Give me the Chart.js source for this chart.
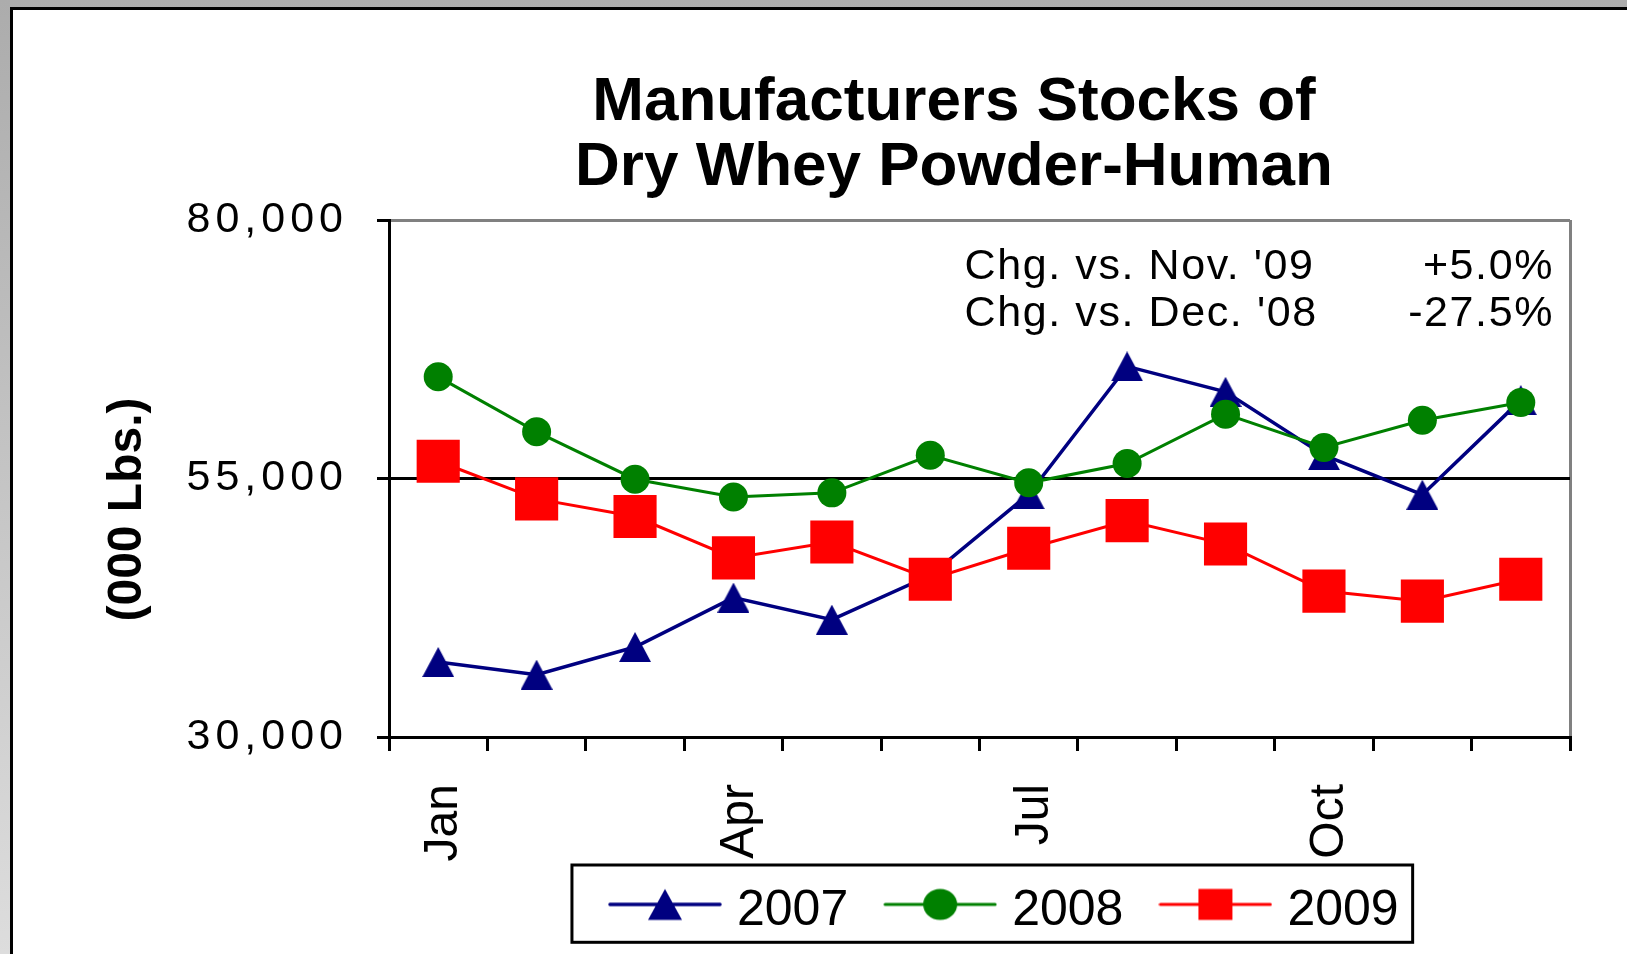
<!DOCTYPE html>
<html>
<head>
<meta charset="utf-8">
<script src="https://cdn.jsdelivr.net/npm/chart.js@4.4.1/dist/chart.umd.min.js"></script>
<style>
html,body{margin:0;padding:0;width:1627px;height:954px;overflow:hidden;background:linear-gradient(to bottom,#acacac,#dddddd);}
#panel{position:absolute;left:10px;top:7px;width:1700px;height:1000px;border:3px solid #000;background:#fff;}
#wrap{position:absolute;left:0;top:0;width:1627px;height:954px;}
canvas{display:block;}
</style>
</head>
<body>
<div id="panel"></div>
<div id="wrap"><canvas id="c" width="1627" height="954"></canvas></div>
<script>
// ---- data ----
const months = ['Jan','Feb','Mar','Apr','May','Jun','Jul','Aug','Sep','Oct','Nov','Dec'];
const tickLabels = ['Jan','Apr','Jul','Oct'];
const seriesNames = ['2007','2008','2009'];
const stocks2007 = [37250, 36030, 38700, 43480, 41350, 45640, 53480, 65840, 63380, 57260, 53430, 62580];
const stocks2008 = [64830, 59510, 54930, 53220, 53610, 57250, 54580, 56450, 61220, 58000, 60640, 62350];
const stocks2009 = [56670, 53030, 51320, 47320, 48860, 45260, 48250, 50920, 48660, 44110, 43140, 45260];
const yTicks = [30000, 55000, 80000];
const titleLines = ['Manufacturers Stocks of', 'Dry Whey Powder-Human'];
const yTitle = '(000 Lbs.)';
const noteLabels = ["Chg. vs. Nov. '09", "Chg. vs. Dec. '08"];
const noteValues = ['+5.0%', '-27.5%'];

// ---- marker images ----
function triangleCanvas(w, h, color) {
  const c = document.createElement('canvas'); c.width = w; c.height = h;
  const g = c.getContext('2d'); g.fillStyle = color;
  g.beginPath(); g.moveTo(w / 2, 0); g.lineTo(w, h); g.lineTo(0, h); g.closePath(); g.fill();
  return c;
}
function legendIcon(shape, color, lineW) {
  const W = 114, H = 60, cy = 23, cx = 57, mw = 34, mh = 31;
  const c = document.createElement('canvas'); c.width = W; c.height = H;
  const g = c.getContext('2d');
  g.strokeStyle = color; g.lineWidth = lineW; g.lineCap = 'round';
  g.beginPath(); g.moveTo(2, cy); g.lineTo(W - 2, cy); g.stroke();
  g.fillStyle = color; g.beginPath();
  if (shape === 'triangle') { g.moveTo(cx, cy - mh / 2); g.lineTo(cx + mw / 2, cy + mh / 2); g.lineTo(cx - mw / 2, cy + mh / 2); g.closePath(); }
  else if (shape === 'circle') { g.ellipse(cx, cy, mw / 2, mh / 2, 0, 0, Math.PI * 2); }
  else { g.rect(cx - mw / 2, cy - mh / 2, mw, mh); }
  g.fill();
  return c;
}
const NAVY = '#000080', GREEN = '#008000', RED = '#ff0000';
const legendIcons = [legendIcon('triangle', NAVY, 3.5), legendIcon('circle', GREEN, 3), legendIcon('rect', RED, 3)];

const decor = {
  id: 'decor',
  afterLayout(chart) {
    const t = chart.titleBlock; if (t) { t.left += 169; t.right += 169; }
    const l = chart.legend; if (l) { l.left += 223.3; l.right += 223.3; }
  },
  beforeDraw(chart) {
    const y = chart.scales.y;
    if (!y.__patched) {
      const origTitle = y.drawTitle.bind(y);
      y.drawTitle = function () { const c = this.ctx; c.save(); c.translate(0, 31); origTitle(); c.restore(); };
      const origLabels = y.drawLabels.bind(y);
      y.drawLabels = function (area) { const c = this.ctx; c.save(); c.letterSpacing = '5px'; origLabels(area); c.restore(); };
      y.__patched = true;
    }
    const x = chart.scales.x;
    if (!x.__patched) {
      x._computeLabelArea = function () { return undefined; };
      x.__patched = true;
    }
  },
  afterDraw(chart) {
    const ctx = chart.ctx, a = chart.chartArea;
    ctx.save();
    ctx.fillStyle = '#000';
    ctx.font = '43px "Liberation Sans"';
    ctx.letterSpacing = '1.6px';
    ctx.textBaseline = 'alphabetic';
    noteLabels.forEach((s, i) => { ctx.textAlign = 'left'; ctx.fillText(s, a.right - 605.5, a.top + 59.3 + i * 46.4); });
    noteValues.forEach((s, i) => { ctx.textAlign = 'right'; ctx.fillText(s, a.right - 16, a.top + 59.3 + i * 46.4); });
    ctx.restore();
    const hb = chart.legend && chart.legend.legendHitBoxes;
    if (hb && hb.length) {
      const f = hb[0], l = hb[hb.length - 1];
      const x0 = f.left - 46, x1 = l.left + l.width + 14, y0 = f.top - 21.4;
      ctx.save(); ctx.lineWidth = 3; ctx.strokeStyle = '#000';
      ctx.strokeRect(x0, y0, x1 - x0, 77.3);
      ctx.restore();
    }
  }
};

new Chart(document.getElementById('c'), {
  type: 'line',
  data: {
    labels: months,
    datasets: [
      { label: seriesNames[0], data: stocks2007, borderColor: NAVY, backgroundColor: NAVY, borderWidth: 3.5,
        pointStyle: triangleCanvas(32, 30, NAVY), pointRadius: 16, pointBorderWidth: 0, tension: 0, order: 3, clip: false },
      { label: seriesNames[1], data: stocks2008, borderColor: GREEN, backgroundColor: GREEN, borderWidth: 3,
        pointStyle: 'circle', pointRadius: 14.5, pointBorderWidth: 0, tension: 0, order: 2, clip: false },
      { label: seriesNames[2], data: stocks2009, borderColor: RED, backgroundColor: RED, borderWidth: 3,
        pointStyle: 'rect', pointRadius: 30.5, pointBorderWidth: 0, tension: 0, order: 1, clip: false }
    ]
  },
  options: {
    responsive: false,
    animation: false,
    events: [],
    layout: { padding: { left: 0, top: 0, right: 57, bottom: 7.6 } },
    plugins: {
      title: {
        display: true, text: titleLines, color: '#000',
        font: { family: 'Liberation Sans', size: 62, weight: 'bold', lineHeight: 65 / 62 },
        padding: { top: 70, bottom: 20 }
      },
      legend: {
        display: true, position: 'bottom',
        labels: {
          usePointStyle: true, pointStyleWidth: 94, padding: 45, color: '#000',
          font: { family: 'Liberation Sans', size: 50 },
          generateLabels: (chart) => chart.data.datasets.map((ds, i) => ({
            text: ds.label, pointStyle: legendIcons[i], fillStyle: ds.borderColor,
            strokeStyle: ds.borderColor, lineWidth: 0, hidden: false, datasetIndex: i, fontColor: '#000'
          }))
        }
      },
      tooltip: { enabled: false }
    },
    scales: {
      x: {
        type: 'category',
        offset: true,
        afterFit: (s) => { s.height = 104.4; },
        border: { display: true, color: '#000', width: 3 },
        grid: {
          offset: true, drawOnChartArea: true, drawTicks: true,
          color: (c) => c.type === 'scale' ? '#808080' : 'rgba(0,0,0,0)',
          lineWidth: 3, tickLength: 14, tickColor: '#000', tickWidth: 3
        },
        ticks: {
          autoSkip: false, maxRotation: 90, minRotation: 90, padding: 33, labelOffset: 6,
          color: '#000', font: { family: 'Liberation Sans', size: 48 },
          callback: (v, i) => tickLabels.includes(months[i]) ? months[i] : ''
        }
      },
      y: {
        min: yTicks[0], max: yTicks[yTicks.length - 1],
        afterBuildTicks: (s) => { s.ticks = yTicks.map(v => ({ value: v })); },
        afterFit: (s) => { s.width = 389; },
        border: { display: true, color: '#000', width: 3 },
        grid: {
          drawOnChartArea: true, drawTicks: true,
          color: (c) => (c.tick && c.tick.value === yTicks[yTicks.length - 1]) ? '#808080' : '#000',
          lineWidth: 3, tickLength: 12, tickColor: '#000', tickWidth: 3
        },
        ticks: {
          color: '#000', padding: 29,
          font: { family: 'Liberation Sans', size: 43 },
          callback: (v) => Number(v).toLocaleString('en-US')
        },
        title: {
          display: true, text: yTitle, color: '#000',
          font: { family: 'Liberation Sans', size: 48, weight: 'bold' },
          padding: { top: 99, bottom: 0 }
        }
      }
    }
  },
  plugins: [decor]
});
</script>
</body>
</html>
